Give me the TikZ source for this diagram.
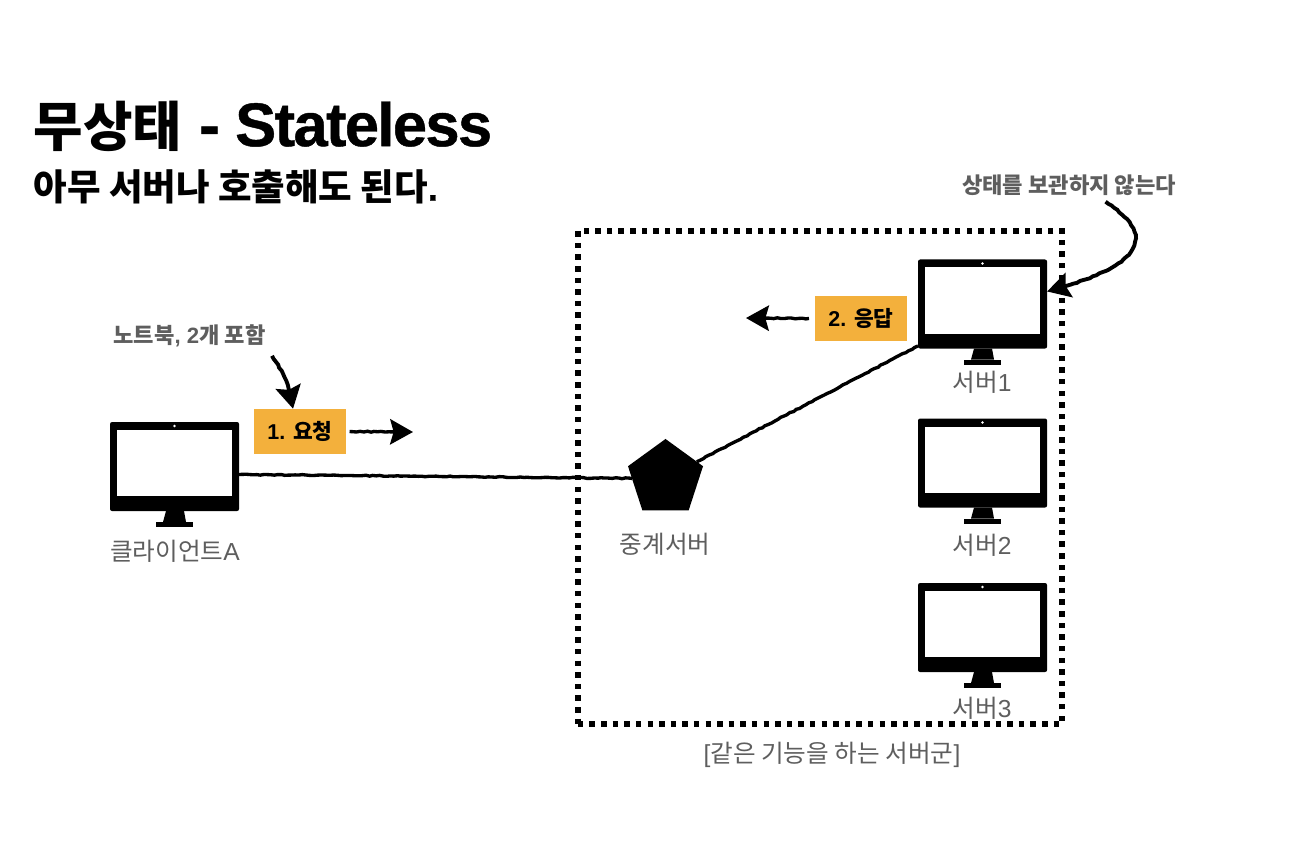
\documentclass[tikz,border=0pt]{standalone}
\usepackage{fontspec}
\setmainfont{Liberation Sans}
\newfontfamily\kr{Noto Sans CJK KR}
\newfontfamily\heavy{Liberation Sans Bold}[FakeBold=0.7,LetterSpace=-2.7]
\usetikzlibrary{arrows.meta,decorations.pathmorphing,shapes.geometric}
\definecolor{labelgray}{HTML}{5E5E5E}
\definecolor{boxorange}{HTML}{F3B03C}
\tikzset{
	monitor/.pic={
		\node[fill=black, rounded corners=0.6pt, minimum width=1.29cm, minimum height=0.89cm, inner sep=0pt, outer sep=0pt, anchor=north west] (-body) at (0,0) {};
		\fill[white] (7,8) rectangle (122,74);
		\fill[white] (64.5,4) circle (0.013cm);
		\fill (56,89) -- (74,89) -- (76,100) -- (53,100) -- cycle;
		\fill (46,100) rectangle (83,105);
	},
	chalk/.style={line width=0.95pt, decorate, decoration={random steps, segment length=1pt, amplitude=0.14pt}},
	chalkarrow/.style={chalk, decoration={random steps, segment length=1pt, amplitude=0.14pt, pre=moveto, pre length=#1, post=lineto, post length=7pt}, -{Stealth[length=6.5pt, width=7.2pt, inset=1pt]}},
	chalkarrow/.default=0pt,
	lbl/.style={text=labelgray, font=\fontsize{7}{8}\selectfont, inner sep=0pt},
	note/.style={text=labelgray, font=\fontsize{6.3}{7}\selectfont\bfseries, inner sep=0pt},
	tag/.style={fill=boxorange, font=\fontsize{6.1}{7}\selectfont\bfseries, minimum width=0.92cm, minimum height=0.455cm, inner sep=0pt, outer sep=0pt}
}
\begin{document}
\begin{tikzpicture}[x=0.01cm, y=-0.01cm]
	\useasboundingbox (0,0) rectangle (1298,846);
	\node[anchor=west, inner sep=0pt, font=\fontsize{17.5}{18}\selectfont\bfseries] (title) at (33,126) {{\fontsize{15.3}{18}\selectfont\kr 무상태} {\heavy - Stateless}};
	\node[anchor=west, inner sep=0pt, font=\fontsize{10.37}{12}\selectfont\bfseries] (subtitle) at (33,187) {{\kr 아무 서버나 호출해도 된다}{\heavy .}};
	\node[draw, line width=1.56pt, dash pattern=on 1.56pt off 1.74pt, minimum width=4.84cm, minimum height=4.93cm, inner sep=0pt] (group) at (820,477.5) {};
	\pic (clientA) at (110,422) {monitor};
	\pic (srvone) at (918,259.5) {monitor};
	\pic (srvtwo) at (918,418.5) {monitor};
	\pic (srvthree) at (918,583) {monitor};
	\node[regular polygon, regular polygon sides=5, fill=black, minimum size=0.788cm, inner sep=0pt, outer sep=0pt] (proxy) at (665.5,478.4) {};
	\node[lbl] (clientlbl) at (175,551) {{\kr 클라이언트}A};
	\node[lbl] (proxylbl) at (665,544) {{\kr 중계서버}};
	\node[lbl] (onelbl) at (982,382) {{\kr 서버}1};
	\node[lbl] (twolbl) at (982,545) {{\kr 서버}2};
	\node[lbl] (threelbl) at (982,708) {{\kr 서버}3};
	\node[lbl] (grouplbl) at (832,755) {[{\kr 같은 기능을 하는 서버군}]};
	\node[note] (noteA) at (189.5,336) {{\kr 노트북}, 2{\kr 개 포함}};
	\node[note] (noteS) at (1069,185) {{\kr 상태를 보관하지 않는다}};
	\node[tag] (reqbox) at (300,431.5) {1. {\kr 요청}};
	\node[tag] (resbox) at (861,318.5) {2. {\kr 응답}};
	\coordinate (reqend) at (413,432);
	\coordinate (resend) at (746,318);
	\draw[chalk] (clientA-body.-7.5) -- (proxy.180);
	\draw[chalk] (proxy.28) -- (srvone-body.213);
	\draw[chalkarrow=1pt] (reqbox.east) -- (reqend);
	\draw[chalkarrow=1.7pt] (resbox.west) -- (resend);
	\draw[chalkarrow=2.8pt, line width=1.1pt] (noteA.south east) .. controls (283,370) and (292,390) .. (reqbox.107);
	\draw[chalkarrow=3pt, line width=1.1pt] (noteS.-22) .. controls (1168,238) and (1135,268) .. (srvone-body.11.4);
\end{tikzpicture}
\end{document}
